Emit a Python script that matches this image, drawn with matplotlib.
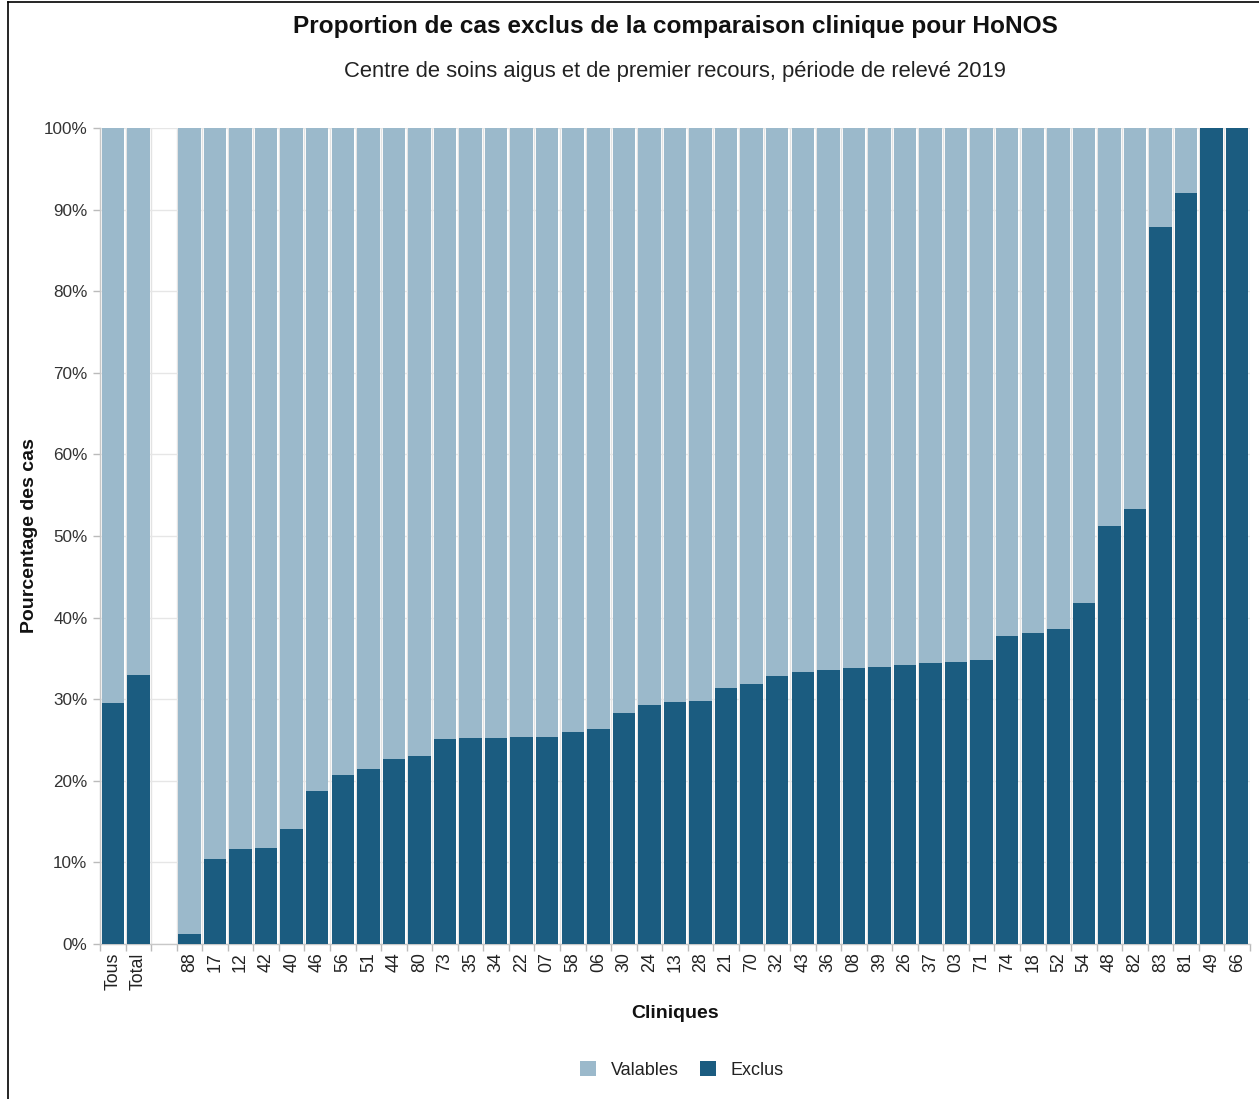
import matplotlib
matplotlib.use("Agg")
import matplotlib.pyplot as plt
from matplotlib.patches import Patch
from matplotlib.lines import Line2D
import numpy as np

plt.rcParams['font.family'] = ['Liberation Sans', 'DejaVu Sans']

categories = ["Tous", "Total", "",
              "88", "17", "12", "42", "40", "46", "56", "51", "44", "80",
              "73", "35", "34", "22", "07", "58", "06", "30", "24", "13",
              "28", "21", "70", "32", "43", "36", "08", "39", "26", "37",
              "03", "71", "74", "18", "52", "54", "48", "82", "83", "81",
              "49", "66"]
exclus = [29.5, 33.0, None,
          1.2, 10.4, 11.6, 11.8, 14.1, 18.8, 20.7, 21.4, 22.7, 23.0,
          25.1, 25.2, 25.2, 25.4, 25.4, 26.0, 26.4, 28.3, 29.3, 29.6,
          29.8, 31.4, 31.9, 32.8, 33.3, 33.6, 33.8, 33.9, 34.2, 34.4,
          34.5, 34.8, 37.8, 38.1, 38.6, 41.8, 51.2, 53.3, 87.9, 92.0,
          100.0, 100.0]
y_ticks = [0, 10, 20, 30, 40, 50, 60, 70, 80, 90, 100]
y_ticklabels = ["0%", "10%", "20%", "30%", "40%", "50%", "60%", "70%", "80%", "90%", "100%"]

c_valid = "#9BB9CB"
c_excl = "#1B5C80"

W, H = 1259, 1099
fig = plt.figure(figsize=(W / 100, H / 100), dpi=100)
ax = fig.add_axes([100 / W, 1 - 944 / H, 1150 / W, (944 - 128) / H])

pos = np.arange(len(categories))
bw = 0.88
for i, v in enumerate(exclus):
    if v is None:
        continue
    ax.bar(pos[i], v, width=bw, color=c_excl, zorder=3, linewidth=0)
    ax.bar(pos[i], 100 - v, bottom=v, width=bw, color=c_valid, zorder=3, linewidth=0)

ax.set_xlim(-0.5, len(categories) - 0.5)
ax.set_ylim(0, 100)
ax.set_yticks(y_ticks)
ax.set_yticklabels(y_ticklabels, fontsize=12.3, color="#333333")
ax.set_xticks(pos)
ax.set_xticklabels(categories, rotation=90, fontsize=12.8, color="#222222")
ax.set_xticks(np.arange(-0.5, len(categories)), minor=True)
ax.tick_params(axis='x', which='major', length=0, pad=6)
ax.tick_params(axis='x', which='minor', length=5, color="#BBBBBB", width=1)
ax.tick_params(axis='y', which='major', length=5, color="#BBBBBB", width=1, pad=4)

ax.grid(axis='y', which='major', color="#E6E6E6", linewidth=1, zorder=0)
ax.grid(axis='x', which='minor', color="#E3E3E3", linewidth=1, zorder=0)
ax.set_axisbelow(True)

for s in ['top', 'right']:
    ax.spines[s].set_visible(False)
for s in ['left', 'bottom']:
    ax.spines[s].set_color("#C8C8C8")
    ax.spines[s].set_linewidth(1)

xc = ax.get_position().x0 + ax.get_position().width / 2
fig.text(xc, 1 - 27 / H, "Proportion de cas exclus de la comparaison clinique pour HoNOS",
         ha='center', va='center', fontsize=17.6, fontweight='bold', color="#111111")
fig.text(xc, 1 - 71 / H, "Centre de soins aigus et de premier recours, période de relevé 2019",
         ha='center', va='center', fontsize=15.8, color="#222222")
fig.text(xc, 1 - 1013 / H, "Cliniques", ha='center', va='center', fontsize=14,
         fontweight='bold', color="#111111")
fig.text(30 / W, 1 - 536 / H, "Pourcentage des cas", ha='center', va='center',
         rotation=90, fontsize=14, fontweight='bold', color="#111111")

handles = [Patch(facecolor=c_valid, edgecolor='none', label="Valables"),
           Patch(facecolor=c_excl, edgecolor='none', label="Exclus")]
fig.legend(handles=handles, loc='center', bbox_to_anchor=(682 / W, 1 - 1070 / H),
           ncol=2, frameon=False, fontsize=13, handlelength=0.9, handleheight=0.9,
           handletextpad=0.8, columnspacing=1.2, labelcolor="#222222")

# outer frame lines (left and top)
fig.add_artist(Line2D([8 / W, 8 / W], [0, 1 - 2 / H], transform=fig.transFigure,
                      color="black", linewidth=1.2))
fig.add_artist(Line2D([8 / W, 1], [1 - 2 / H, 1 - 2 / H], transform=fig.transFigure,
                      color="black", linewidth=1.2))

fig.savefig("out.png", dpi=100)
